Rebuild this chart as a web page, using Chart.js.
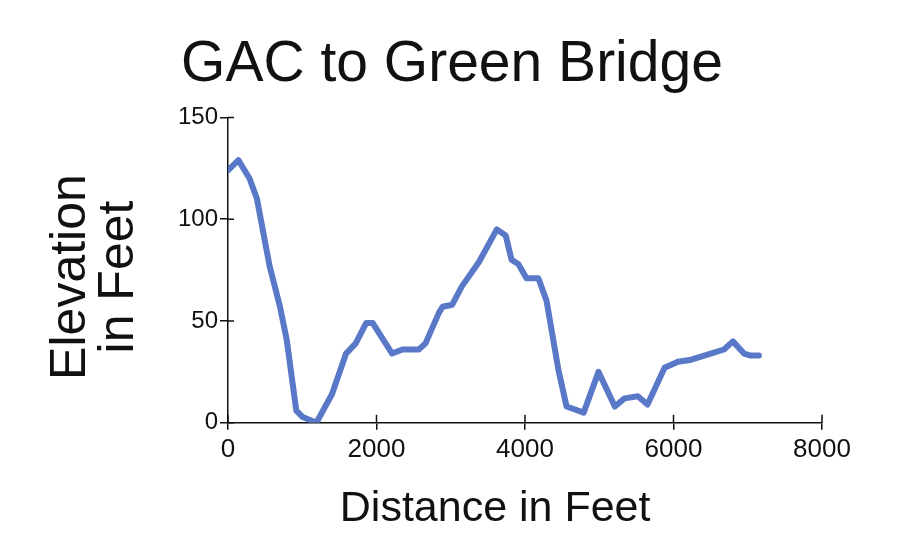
<!DOCTYPE html>
<html>
<head>
<meta charset="utf-8">
<title>GAC to Green Bridge</title>
<script src="https://cdn.jsdelivr.net/npm/chart.js@4.4.1/dist/chart.umd.min.js"></script>
<style>
  html, body { margin: 0; padding: 0; background: #ffffff; }
  canvas { display: block; }
</style>
</head>
<body>
<canvas id="elevationChart" width="914" height="550"></canvas>
<script>
// Distance along the trail (feet) and elevation (feet)
var distance = [0, 140, 290, 390, 560, 700, 790, 920, 1000, 1190, 1400, 1590, 1720, 1860, 1950,
    2210, 2350, 2570, 2660, 2840, 2890, 3020, 3150, 3380, 3620, 3740, 3820, 3910, 4020, 4180,
    4290, 4450, 4560, 4790, 4990, 5210, 5340, 5520, 5650, 5880, 6060, 6240, 6500, 6680, 6800,
    6950, 7040, 7150];
var elevation = [124, 129, 120, 110, 77, 57, 41, 6, 3, 0, 14, 34, 39, 49, 49,
    34, 36, 36, 39, 54, 57, 58, 67, 79, 95, 92, 80, 78, 71, 71,
    60, 26, 8, 5, 25, 8, 12, 13, 9, 27, 30, 31, 34, 36, 40,
    34, 33, 33];

var xTicks = [0, 2000, 4000, 6000, 8000];
var yTicks = [0, 50, 100, 150];

var fontFamily = "'Liberation Sans', Arial, Helvetica, sans-serif";

// small tick marks on the inside of the axes, so they cross the axis line
var innerTicks = {
    id: 'innerTicks',
    afterDraw: function (chart) {
        var ctx = chart.ctx;
        var area = chart.chartArea;
        var xs = chart.scales.x;
        var ys = chart.scales.y;
        ctx.save();
        ctx.strokeStyle = '#111';
        ctx.lineWidth = 1.5;
        ctx.beginPath();
        xs.ticks.forEach(function (t) {
            var px = xs.getPixelForValue(t.value);
            ctx.moveTo(px, area.bottom);
            ctx.lineTo(px, area.bottom - 8);
        });
        ys.ticks.forEach(function (t) {
            var py = ys.getPixelForValue(t.value);
            ctx.moveTo(area.left, py);
            ctx.lineTo(area.left + 6, py);
        });
        ctx.stroke();
        ctx.restore();
    }
};

document.addEventListener("DOMContentLoaded", function () {
    var myContext = document.getElementById("elevationChart").getContext('2d');

    var points = distance.map(function (d, i) {
        return { x: d, y: elevation[i] };
    });

    var myChart = new Chart(myContext, {
        type: 'line',
        data: {
            datasets: [{
                label: 'Elevation',
                data: points,
                borderColor: '#5a78c8',
                borderWidth: 6,
                pointRadius: 0,
                tension: 0,
                fill: false,
                borderJoinStyle: 'round',
                borderCapStyle: 'round'
            }]
        },
        plugins: [innerTicks],
        options: {
            responsive: false,
            animation: false,
            devicePixelRatio: 1,
            layout: {
                padding: { left: 82, right: 92, top: 0, bottom: 10 }
            },
            plugins: {
                legend: { display: false },
                tooltip: { enabled: false },
                title: {
                    display: true,
                    text: 'GAC to Green Bridge',
                    color: '#111',
                    font: { family: fontFamily, size: 57, weight: 'normal', lineHeight: 1.2 },
                    padding: { top: 31, bottom: 18 }
                }
            },
            scales: {
                x: {
                    type: 'linear',
                    min: 0,
                    max: 8000,
                    afterBuildTicks: function (scale) {
                        scale.ticks = xTicks.map(function (v) { return { value: v }; });
                    },
                    ticks: {
                        color: '#111',
                        font: { family: fontFamily, size: 26 },
                        padding: 4,
                        maxRotation: 0,
                        callback: function (v) { return String(v); }
                    },
                    grid: {
                        drawOnChartArea: false,
                        color: '#111',
                        tickLength: 7,
                        lineWidth: 1.5
                    },
                    border: { color: '#111', width: 1.5 },
                    title: {
                        display: true,
                        text: 'Distance in Feet     ',
                        color: '#111',
                        font: { family: fontFamily, size: 43, lineHeight: 1.0 },
                        padding: { top: 19, bottom: 9 }
                    }
                },
                y: {
                    min: 0,
                    max: 150,
                    afterBuildTicks: function (scale) {
                        scale.ticks = yTicks.map(function (v) { return { value: v }; });
                    },
                    afterFit: function (scale) {
                        scale.width = 146;
                    },
                    ticks: {
                        color: '#111',
                        font: { family: fontFamily, size: 24 },
                        padding: 2,
                        callback: function (v) { return String(v); }
                    },
                    grid: {
                        drawOnChartArea: false,
                        color: '#111',
                        tickLength: 8,
                        lineWidth: 1.5
                    },
                    border: { color: '#111', width: 1.5 },
                    title: {
                        display: true,
                        text: ['Elevation ', 'in Feet '],
                        color: '#111',
                        font: { family: fontFamily, size: 50, lineHeight: 0.96 },
                        padding: { top: -35, bottom: 0 }
                    }
                }
            }
        }
    });
});
</script>
</body>
</html>
